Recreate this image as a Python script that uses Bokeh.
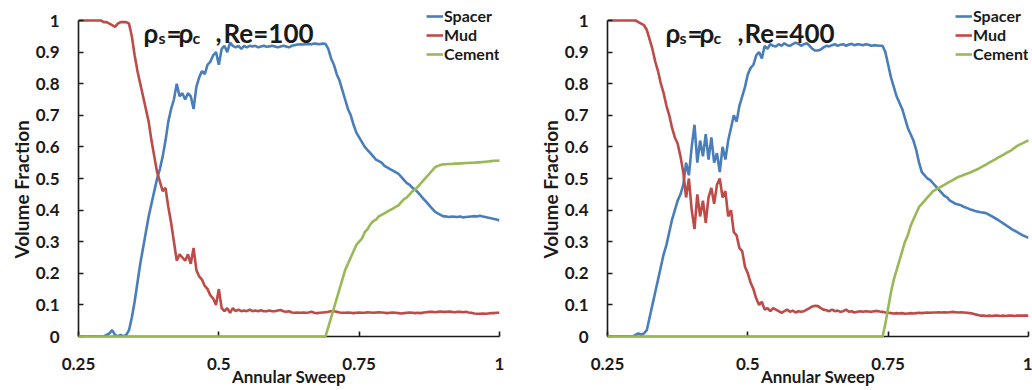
import math
from bokeh.plotting import figure
from bokeh.layouts import row
from bokeh.models import Range1d, FixedTicker, Label, Legend, LegendItem, Title
from bokeh.embed import file_html
from bokeh.resources import INLINE

# ---------------- data ----------------
sweep = [round(0.25 + 0.005 * i, 3) for i in range(151)]

spacer_re100 = [
    0, 0, 0, 0, 0, 0, 0, 0, 0, 0,
    0.005, 0.01, 0.02, 0.005, 0, 0.005, 0, 0.005, 0.02, 0.06,
    0.11, 0.17, 0.23, 0.28, 0.33, 0.38, 0.42, 0.46, 0.50, 0.53,
    0.57, 0.62, 0.68, 0.72, 0.75, 0.80, 0.76, 0.77, 0.75, 0.77,
    0.76, 0.72, 0.79, 0.82, 0.84, 0.83, 0.86, 0.87, 0.89, 0.90,
    0.86, 0.91, 0.92, 0.90, 0.93, 0.92, 0.915, 0.92, 0.91, 0.92,
    0.915, 0.92, 0.918, 0.92, 0.915, 0.918, 0.92, 0.917, 0.918, 0.92,
    0.918, 0.915, 0.918, 0.92, 0.918, 0.915, 0.92, 0.922, 0.924, 0.925,
    0.924, 0.925, 0.926, 0.925, 0.927, 0.926, 0.925, 0.927, 0.926, 0.91,
    0.88, 0.86, 0.83, 0.81, 0.78, 0.75, 0.72, 0.70, 0.67, 0.645,
    0.63, 0.615, 0.60, 0.59, 0.58, 0.57, 0.56, 0.555, 0.55, 0.54,
    0.535, 0.53, 0.525, 0.52, 0.515, 0.505, 0.495, 0.485, 0.48, 0.47,
    0.465, 0.455, 0.445, 0.435, 0.425, 0.415, 0.405, 0.395, 0.39, 0.385,
    0.38, 0.38, 0.378, 0.38, 0.379, 0.378, 0.38, 0.377, 0.378, 0.379,
    0.38, 0.381, 0.38, 0.382, 0.38, 0.378, 0.376, 0.374, 0.372, 0.37,
    0.367,
]
mud_re100 = [
    1.0, 1.0, 1.0, 1.0, 1.0, 1.0, 1.0, 1.0, 1.0, 0.995,
    0.995, 0.99, 0.985, 0.98, 0.99, 0.995, 0.995, 0.995, 0.99, 0.95,
    0.89, 0.84, 0.80, 0.76, 0.72, 0.68, 0.62, 0.57, 0.52, 0.49,
    0.46, 0.47, 0.41, 0.36, 0.30, 0.24, 0.26, 0.25, 0.24, 0.26,
    0.23, 0.28, 0.21, 0.19, 0.18, 0.16, 0.15, 0.13, 0.12, 0.10,
    0.15, 0.09, 0.08, 0.09, 0.075, 0.09, 0.08, 0.085, 0.08, 0.082,
    0.08, 0.085, 0.08, 0.082, 0.08, 0.083, 0.08, 0.08, 0.082, 0.08,
    0.08, 0.082, 0.084, 0.08, 0.078, 0.08, 0.076, 0.075, 0.076, 0.075,
    0.076, 0.075, 0.076, 0.078, 0.075, 0.074, 0.075, 0.076, 0.077, 0.078,
    0.08, 0.08, 0.078, 0.076, 0.075, 0.075, 0.076, 0.075, 0.074, 0.075,
    0.076, 0.075, 0.075, 0.077, 0.076, 0.075, 0.076, 0.077, 0.076, 0.075,
    0.074, 0.075, 0.076, 0.075, 0.074, 0.073, 0.074, 0.075, 0.076, 0.075,
    0.074, 0.075, 0.074, 0.076, 0.077, 0.078, 0.078, 0.077, 0.078, 0.079,
    0.078, 0.078, 0.079, 0.078, 0.077, 0.078, 0.078, 0.077, 0.078, 0.076,
    0.075, 0.073, 0.072, 0.072, 0.073, 0.072, 0.073, 0.074, 0.074, 0.075,
    0.075,
]
cement_re100 = [0] * 80 + [
    0, 0, 0, 0, 0, 0, 0, 0, 0, 0.03,
    0.06, 0.09, 0.12, 0.15, 0.18, 0.21, 0.23, 0.25, 0.27, 0.29,
    0.30, 0.31, 0.33, 0.34, 0.355, 0.365, 0.37, 0.38, 0.385, 0.39,
    0.395, 0.40, 0.405, 0.41, 0.415, 0.425, 0.435, 0.44, 0.45, 0.46,
    0.465, 0.475, 0.485, 0.495, 0.505, 0.515, 0.525, 0.535, 0.54, 0.543,
    0.545, 0.545, 0.546, 0.546, 0.547, 0.547, 0.548, 0.548, 0.549, 0.549,
    0.55, 0.55, 0.551, 0.551, 0.552, 0.553, 0.554, 0.555, 0.556, 0.556,
    0.557,
]

spacer_re400 = [
    0, 0, 0, 0, 0, 0, 0, 0, 0, 0,
    0.005, 0.01, 0.005, 0.01, 0.02, 0.06, 0.10, 0.14, 0.18, 0.22,
    0.26, 0.29, 0.33, 0.37, 0.40, 0.43, 0.45, 0.48, 0.55, 0.51,
    0.60, 0.67, 0.55, 0.62, 0.57, 0.64, 0.56, 0.63, 0.55, 0.58,
    0.52, 0.60, 0.56, 0.62, 0.66, 0.70, 0.68, 0.73, 0.76, 0.79,
    0.83, 0.85, 0.86, 0.89, 0.90, 0.88, 0.92, 0.91, 0.925, 0.92,
    0.918, 0.925, 0.92, 0.928, 0.922, 0.92, 0.925, 0.93, 0.926, 0.92,
    0.925, 0.928, 0.92, 0.91, 0.905, 0.905, 0.908, 0.915, 0.92, 0.918,
    0.922, 0.925, 0.92, 0.923, 0.925, 0.92, 0.924, 0.926, 0.922, 0.925,
    0.924, 0.922, 0.925, 0.923, 0.92, 0.922, 0.921, 0.92, 0.92, 0.90,
    0.86, 0.82, 0.79, 0.76, 0.74, 0.72, 0.69, 0.66, 0.64, 0.62,
    0.59, 0.55, 0.52, 0.51, 0.50, 0.495, 0.485, 0.475, 0.465, 0.455,
    0.445, 0.44, 0.43, 0.425, 0.42, 0.418, 0.415, 0.41, 0.407, 0.403,
    0.40, 0.397, 0.395, 0.393, 0.392, 0.39, 0.385, 0.38, 0.375, 0.37,
    0.364, 0.358, 0.352, 0.346, 0.34, 0.335, 0.33, 0.325, 0.32, 0.316,
    0.312,
]
mud_re400 = [
    1.0, 1.0, 1.0, 1.0, 1.0, 1.0, 1.0, 1.0, 1.0, 1.0,
    1.0, 0.995, 0.99, 0.985, 0.97, 0.94, 0.91, 0.87, 0.84, 0.80,
    0.77, 0.73, 0.70, 0.66, 0.63, 0.61, 0.57, 0.52, 0.44, 0.50,
    0.40, 0.34, 0.45, 0.38, 0.43, 0.36, 0.44, 0.47, 0.42, 0.48,
    0.50, 0.44, 0.46, 0.38, 0.40, 0.33, 0.32, 0.28, 0.27, 0.22,
    0.20, 0.17, 0.15, 0.12, 0.10, 0.11, 0.085, 0.09, 0.08, 0.09,
    0.085, 0.08, 0.075, 0.08, 0.085, 0.078, 0.082, 0.076, 0.08, 0.078,
    0.08, 0.085, 0.09, 0.095, 0.097, 0.096, 0.09, 0.085, 0.083, 0.08,
    0.085, 0.08, 0.082, 0.078, 0.08, 0.085, 0.078, 0.08, 0.076, 0.078,
    0.08, 0.078, 0.08, 0.079, 0.078, 0.08, 0.081, 0.079, 0.078, 0.076,
    0.075, 0.074, 0.073, 0.074, 0.073, 0.074, 0.072, 0.073, 0.074, 0.073,
    0.074, 0.075, 0.074, 0.075, 0.076, 0.075, 0.076, 0.076, 0.077, 0.076,
    0.077, 0.076, 0.077, 0.078, 0.077, 0.076, 0.077, 0.076, 0.075, 0.074,
    0.073, 0.07, 0.068, 0.066, 0.066, 0.065, 0.066, 0.065, 0.066, 0.066,
    0.065, 0.066, 0.065, 0.066, 0.066, 0.065, 0.066, 0.066, 0.066, 0.066,
    0.066,
]
cement_re400 = [0] * 90 + [
    0, 0, 0, 0, 0, 0, 0, 0, 0, 0.04,
    0.09, 0.14, 0.18, 0.21, 0.24, 0.27, 0.30, 0.32, 0.35, 0.37,
    0.39, 0.41, 0.42, 0.43, 0.44, 0.45, 0.46, 0.465, 0.47, 0.475,
    0.48, 0.485, 0.49, 0.495, 0.50, 0.505, 0.508, 0.512, 0.515, 0.518,
    0.522, 0.526, 0.53, 0.535, 0.54, 0.545, 0.55, 0.555, 0.56, 0.565,
    0.57, 0.575, 0.58, 0.585, 0.59, 0.597, 0.603, 0.608, 0.612, 0.617,
    0.62,
]

series_names = ["Spacer", "Mud", "Cement"]
x_ticks = [0.25, 0.5, 0.75, 1.0]
x_tick_labels = ["0.25", "0.5", "0.75", "1"]
y_ticks = [0, 0.1, 0.2, 0.3, 0.4, 0.5, 0.6, 0.7, 0.8, 0.9, 1.0]
y_tick_labels = ["0", "0.1", "0.2", "0.3", "0.4", "0.5", "0.6", "0.7", "0.8", "0.9", "1"]

for arr in (spacer_re100, mud_re100, cement_re100, spacer_re400, mud_re400, cement_re400):
    assert len(arr) == len(sweep), len(arr)

# ---------------- styling ----------------
COLORS = ["#4A7EBB", "#BE4B48", "#98B954"]
LEVELS = ["glyph", "glyph", "overlay"]
FONT = "Lato"
INK = "#1a1a1a"
FRAME_W = 421
FRAME_TOP = 2
BOTTOM = 54
PX_PER_UNIT_Y = 316.0
Y_TOP = (390 - FRAME_TOP - BOTTOM) / PX_PER_UNIT_Y


def px2x(off):
    return 0.25 + off * 0.75 / FRAME_W


def py2y(py):
    return (390 - BOTTOM - py) / PX_PER_UNIT_Y


def make_panel(series, re_text, border_left, title_offs):
    border_right = 516 - border_left - FRAME_W
    p = figure(width=516, height=390, output_backend="svg", toolbar_location=None,
               x_range=Range1d(0.25, 1.0), y_range=Range1d(0, Y_TOP),
               min_border_left=border_left, min_border_right=border_right,
               min_border_top=FRAME_TOP, min_border_bottom=BOTTOM)
    p.outline_line_color = None
    p.grid.visible = False
    p.background_fill_color = "white"
    p.border_fill_color = "white"

    items = []
    for name, vals, col, lvl in zip(series_names, series, COLORS, LEVELS):
        r = p.line(sweep, vals, line_color=col, line_width=2.6, level=lvl)
        items.append(LegendItem(label=name, renderers=[r]))

    legend = Legend(items=items, location=(348, 273), orientation="vertical",
                    glyph_width=17, glyph_height=18, label_height=18,
                    label_standoff=1, spacing=0, padding=0, margin=0,
                    border_line_alpha=0, background_fill_alpha=0,
                    label_text_font=FONT, label_text_font_style="bold",
                    label_text_font_size="16px", label_text_color=INK)
    p.add_layout(legend, "center")

    p.xaxis.ticker = FixedTicker(ticks=x_ticks)
    p.xaxis.major_label_overrides = dict(zip(x_ticks, x_tick_labels))
    p.yaxis.ticker = FixedTicker(ticks=y_ticks)
    p.yaxis.major_label_overrides = dict(zip(y_ticks, y_tick_labels))
    p.xaxis.bounds = (0.25, 1.0)
    p.yaxis.bounds = (0, 1.0)
    for ax in (p.xaxis[0], p.yaxis[0]):
        ax.axis_line_color = INK
        ax.axis_line_width = 1.6
        ax.major_tick_line_color = INK
        ax.major_tick_line_width = 1.6
        ax.major_tick_in = 5
        ax.major_tick_out = 0
        ax.minor_tick_line_color = None
        ax.major_label_text_font = FONT
        ax.major_label_text_font_style = "bold"
        ax.major_label_text_font_size = "17px"
        ax.major_label_text_color = INK
    p.yaxis.major_label_standoff = 19
    p.xaxis.major_label_standoff = 21
    p.xaxis.axis_label = "Annular Sweep"
    p.xaxis.axis_label_text_font = FONT
    p.xaxis.axis_label_text_font_style = "bold"
    p.xaxis.axis_label_text_font_size = "17px"
    p.xaxis.axis_label_text_color = INK
    p.xaxis.axis_label_standoff = -7

    p.add_layout(Title(text="Volume Fraction", align="left", offset=78,
                       text_font=FONT, text_font_style="bold",
                       text_font_size="19px", text_color=INK, standoff=0), "left")

    big = "26px"
    small = "16px"
    pieces = [("ρ", big, 32), ("s", small, 37), ("=", big, 32), ("ρ", big, 32),
              ("c", small, 37), (",", big, 32), (re_text, big, 32)]
    for (txt, size, base), off in zip(pieces, title_offs):
        p.add_layout(Label(x=px2x(off), y=py2y(base), text=txt, text_align="left",
                           text_baseline="alphabetic", text_font=FONT,
                           text_font_style="bold", text_font_size=size,
                           text_color=INK))
    return p


p1 = make_panel([spacer_re100, mud_re100, cement_re100], "Re=100", 78,
                [65, 80, 88, 100, 114, 137, 145])
p2 = make_panel([spacer_re400, mud_re400, cement_re400], "Re=400", 91,
                [58, 72, 80, 92, 106, 130, 137])

layout = row(p1, p2, spacing=0)
open("out.html", "w").write(file_html(layout, INLINE))
